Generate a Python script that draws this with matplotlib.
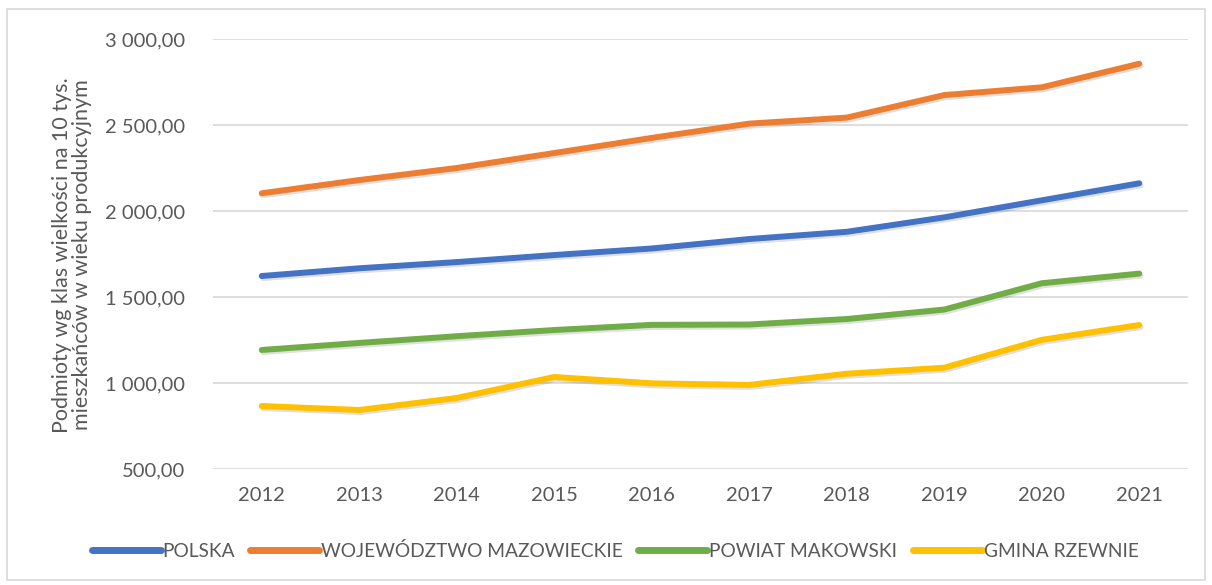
import matplotlib
matplotlib.use("Agg")
import matplotlib.pyplot as plt
import matplotlib.patheffects as pe
from matplotlib.patches import Rectangle
from matplotlib.ticker import FuncFormatter

years = ["2012", "2013", "2014", "2015", "2016", "2017", "2018", "2019", "2020", "2021"]
polska = [1622, 1667, 1703, 1744, 1782, 1837, 1879, 1963, 2062, 2161]
mazowieckie = [2103, 2180, 2250, 2337, 2425, 2508, 2543, 2674, 2719, 2856]
makowski = [1192, 1233, 1272, 1308, 1338, 1340, 1372, 1427, 1580, 1636]
rzewnie = [866, 843, 913, 1035, 998, 989, 1054, 1089, 1251, 1337]

series = [
    ("POLSKA", polska, "#4472C4"),
    ("WOJEWÓDZTWO MAZOWIECKIE", mazowieckie, "#ED7D31"),
    ("POWIAT MAKOWSKI", makowski, "#70AD47"),
    ("GMINA RZEWNIE", rzewnie, "#FFC000"),
]

plt.rcParams['font.family'] = ['Lato', 'DejaVu Sans']
txt = "#595959"

fig = plt.figure(figsize=(12.12, 5.85), dpi=100)
fig.patches.append(Rectangle((7/1212, 1 - 580/585), 1198/1212, 571/585,
                             transform=fig.transFigure, fill=False,
                             edgecolor="#d9d9d9", linewidth=1.2))
ax = fig.add_axes([213/1212, 1 - 469/585, (1188-213)/1212, (469-39)/585])

x = list(range(len(years)))
for name, vals, col in series:
    ax.plot(x, vals, color=col, lw=4.3, solid_capstyle="round", solid_joinstyle="round",
            label=name,
            path_effects=[pe.SimpleLineShadow(offset=(1, -1.5), shadow_color="black", alpha=0.12),
                          pe.Normal()])

ax.set_xlim(-0.5, len(years) - 0.5)
ax.set_ylim(500, 3000)
ax.set_yticks([500, 1000, 1500, 2000, 2500, 3000])
ax.yaxis.set_major_formatter(FuncFormatter(lambda v, p: f"{v:,.2f}".replace(",", " ").replace(".", ",")))
ax.set_xticks(x)
ax.set_xticklabels(years)
ax.grid(axis="y", color="#d9d9d9", lw=1.2)
ax.set_axisbelow(True)
for s in ax.spines.values():
    s.set_visible(False)
ax.tick_params(axis="both", length=0, labelsize=14.5, labelcolor=txt)
ax.tick_params(axis="y", pad=20)
ax.tick_params(axis="x", pad=13)

fig.text(72/1212, 1 - 255/585, "Podmioty wg klas wielkości na 10 tys.\nmieszkańców w wieku produkcyjnym",
         rotation=90, ha="center", va="center", fontsize=15.5, color=txt, linespacing=1.05)

leg = fig.legend(loc="center", bbox_to_anchor=(615/1212, 1 - 551/585), ncol=4, frameon=False,
                 fontsize=13.8, handlelength=3.6, handletextpad=0.1, columnspacing=0.8)
for t in leg.get_texts():
    t.set_color(txt)
for h in leg.get_lines():
    h.set_path_effects([])
    h.set_linewidth(5)

fig.savefig("out.png", dpi=100)
